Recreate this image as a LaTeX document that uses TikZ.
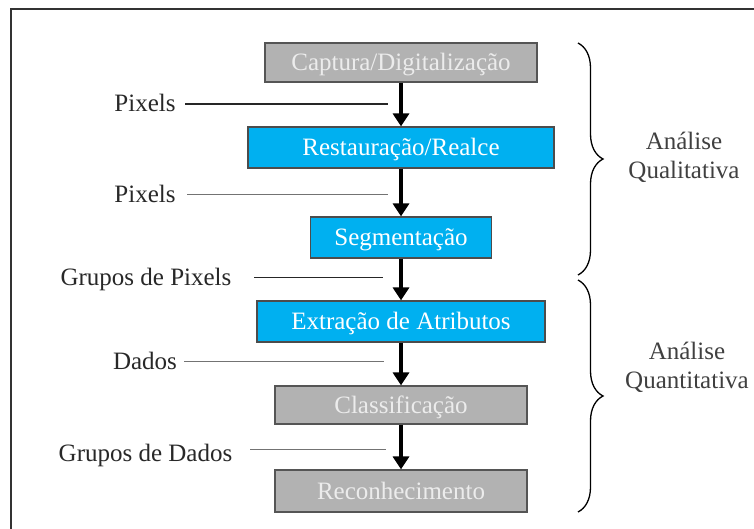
\documentclass[tikz,border=0pt]{standalone}
\usepackage{fontspec}
\setmainfont{Liberation Serif}
\usetikzlibrary{arrows.meta,decorations.pathreplacing}
\definecolor{boxblue}{RGB}{0,176,240}
\definecolor{boxgray}{RGB}{178,178,178}
\definecolor{graytext}{RGB}{236,236,236}
\definecolor{labeltext}{RGB}{40,40,40}
\definecolor{bordergray}{RGB}{85,85,85}
\begin{document}
\begin{tikzpicture}[x=1pt,y=-1pt,
  every node/.style={font=\fontsize{25}{29}\selectfont},
  procbox/.style={draw=bordergray, line width=1.2pt, inner sep=0pt, text height=16.5pt, text depth=0pt},
  graybox/.style={procbox, fill=boxgray, text=graytext},
  bluebox/.style={procbox, fill=boxblue, text=white, draw=black!70},
  flow/.style={line width=3.5pt, -{Triangle[width=16pt,length=13pt]}},
  lbl/.style={anchor=base, text=labeltext},
  thickline/.style={line width=1.8pt, black!85},
  thinline/.style={line width=1pt, black!55},
  bracestyle/.style={decorate, decoration={brace, amplitude=25pt}, line width=1.3pt},
  side/.style={align=center, text=black!75}
]
\useasboundingbox (0,0) rectangle (754,529);
\fill[white] (0,0) rectangle (754,529);
\draw[line width=2pt, black!80] (11,529) -- (11,9) -- (754,9);

% process boxes
\node[graybox, minimum width=272pt, minimum height=39pt] (cap) at (401,62.5) {Captura/Digitalização};
\node[bluebox, minimum width=306pt, minimum height=41pt] (res) at (401,147.5) {Restauração/Realce};
\node[bluebox, minimum width=181pt, minimum height=41pt] (seg) at (401,237.5) {Segmentação};
\node[bluebox, minimum width=288pt, minimum height=41pt] (ext) at (401,321.5) {Extração de Atributos};
\node[graybox, minimum width=252pt, minimum height=38pt] (cla) at (401,405) {Classificação};
\node[graybox, minimum width=252pt, minimum height=42pt] (rec) at (401,491) {Reconhecimento};

% flow arrows
\draw[flow] (cap) -- (res);
\draw[flow] (res) -- (seg);
\draw[flow] (seg) -- (ext);
\draw[flow] (ext) -- (cla);
\draw[flow] (cla) -- (rec);

% labels and leader lines
\node[lbl] (l1) at (145,112) {Pixels};
\coordinate (l1a) at (185,104); \coordinate (l1b) at (388,104);
\draw[thickline] (l1a) -- (l1b);

\node[lbl] (l2) at (145,203) {Pixels};
\coordinate (l2a) at (187,195); \coordinate (l2b) at (388,195);
\draw[thinline] (l2a) -- (l2b);

\node[lbl] (l3) at (146,285) {Grupos de Pixels};
\coordinate (l3a) at (254,277.5); \coordinate (l3b) at (383,277.5);
\draw[thickline] (l3a) -- (l3b);

\node[lbl] (l4) at (145,369) {Dados};
\coordinate (l4a) at (184,361); \coordinate (l4b) at (384,361);
\draw[thinline] (l4a) -- (l4b);

\node[lbl] (l5) at (145.5,461) {Grupos de Dados};
\coordinate (l5a) at (250,449); \coordinate (l5b) at (386,449);
\draw[thinline] (l5a) -- (l5b);

% braces
\coordinate (b1t) at (578,43); \coordinate (b1b) at (578,275);
\coordinate (b2t) at (578,280); \coordinate (b2b) at (578,512);
\draw[bracestyle] (b1t) -- (b1b);
\draw[bracestyle] (b2t) -- (b2b);

\node[side] (qual) at (684,157) {Análise\\Qualitativa};
\node[side] (quant) at (687,367) {Análise\\Quantitativa};
\end{tikzpicture}
\end{document}
